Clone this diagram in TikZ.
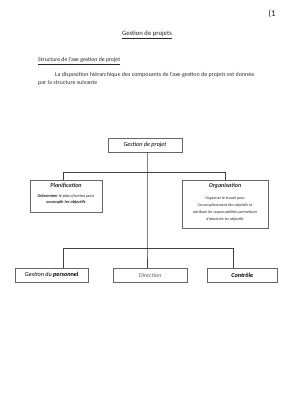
\documentclass[tikz,border=0pt]{standalone}
\usepackage{fontspec}
\setmainfont{Carlito}
\begin{document}
\begin{tikzpicture}[x=1pt,y=-1pt,
  box/.style={draw=black!60,line width=0.5pt,rectangle,inner sep=0pt,align=center},
  conn/.style={draw=black!75,line width=0.6pt},
  txt/.style={inner sep=0pt,anchor=west}]
\useasboundingbox[fill=white] (0,0) rectangle (283,400);
% texts
\node[inner sep=0pt,text=black!85,font=\fontsize{6.7}{7.5}\selectfont] (ttl) at (147,35) {\underline{Gestion de projets}};
\node[txt,text=black!85,font=\fontsize{5.8}{6.5}\selectfont] (sub) at (38,61) {\underline{Structure de l'axe gestion de projet}};
\node[txt,text=black!80,font=\fontsize{6.0}{7}\selectfont] (p1) at (55,75) {La disposition hiérarchique des composants de l'axe gestion de projets est donnée};
\node[txt,text=black!80,font=\fontsize{6.0}{7}\selectfont] (p2) at (38,82.5) {par la structure suivante};
\node[inner sep=0pt,text=black!85,font=\fontsize{9}{10}\selectfont] (pg) at (272,14) {(1};
% boxes
\node[box,minimum width=74pt,minimum height=14pt,font=\fontsize{6.2}{7}\selectfont] (top) at (145,145) {\textit{Gestion de projet}};
\node[box,minimum width=72pt,minimum height=32pt,anchor=north west] (plan) at (30,180) {};
\node[inner sep=0pt,align=center,text=black!85,font=\fontsize{6.0}{7}\selectfont] (plant) at (66,186) {\textbf{\textit{Planification}}};
\node[inner sep=0pt,align=center,text=black!85,font=\fontsize{4.3}{6.2}\selectfont] (pland) at (66,199) {\textbf{\textit{Déterminer}} \textit{le plan d'action pour}\\\textbf{\textit{accomplir les objectifs}}};
\node[box,minimum width=86pt,minimum height=48pt,anchor=north west] (org) at (182,180) {};
\node[inner sep=0pt,align=center,text=black!85,font=\fontsize{6.0}{7}\selectfont] (orgt) at (225,186) {\textbf{\textit{Organisation}}};
\node[inner sep=0pt,align=center,text=black!85,font=\fontsize{4.0}{6.8}\selectfont] (orgd) at (225,209) {\textit{Organiser le travail pour}\\\textit{l'accomplissement des objectifs et}\\\textit{attribuer les responsabilités permettant}\\\textit{d'atteindre les objectifs}};
\node[box,minimum width=73pt,minimum height=14pt,anchor=north west,font=\fontsize{6.2}{7}\selectfont] (gp) at (15,268) {\textit{Gestion du \textbf{personnel}}};
\node[box,minimum width=74pt,minimum height=14pt,anchor=north west,font=\fontsize{6.2}{7}\selectfont] (dir) at (113,268) {\textcolor{black!60}{\textit{Direction}}};
\node[box,minimum width=70pt,minimum height=14pt,anchor=north west,font=\fontsize{6.2}{7}\selectfont] (ctl) at (207,268) {\textbf{\textit{Contrôle}}};
% junctions
\coordinate (j1) at (147,172);
\coordinate (j1l) at (63,172);
\coordinate (j1r) at (225,172);
\coordinate (j2) at (147,248);
\coordinate (j2l) at (63,248);
\coordinate (j2r) at (233,248);
% connectors
\draw[conn] (top.south -| j1) -- (j2) -- (j2 |- dir.north);
\draw[conn] (j1l) -- (j1r);
\draw[conn] (j1l) -- (j1l |- plan.north);
\draw[conn] (j1r) -- (j1r |- org.north);
\draw[conn] (j2l) -- (j2r);
\draw[conn] (j2l) -- (j2l |- gp.north);
\draw[conn] (j2r) -- (j2r |- ctl.north);
\end{tikzpicture}
\end{document}
